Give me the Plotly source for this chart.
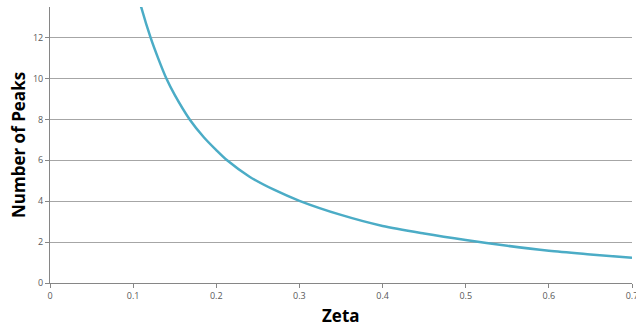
import plotly.graph_objects as go

zeta = [0.100, 0.110, 0.121, 0.130, 0.140, 0.150, 0.168, 0.185, 0.200, 0.213,
        0.240, 0.270, 0.300, 0.350, 0.400, 0.450, 0.500, 0.550, 0.600, 0.650, 0.700]
peaks = [15.0, 13.45, 12.0, 11.0, 10.0, 9.2, 8.0, 7.13, 6.5, 6.0,
         5.2, 4.55, 4.02, 3.33, 2.79, 2.42, 2.10, 1.82, 1.58, 1.40, 1.23]
x_ticks = [0, 0.1, 0.2, 0.3, 0.4, 0.5, 0.6, 0.7]
x_labels = ["0", "0.1", "0.2", "0.3", "0.4", "0.5", "0.6", "0.7"]
y_ticks = [0, 2, 4, 6, 8, 10, 12]

W, H = 636, 324
L, R, T, B = 50, 4, 7, 41

fig = go.Figure()
fig.add_trace(go.Scatter(x=zeta, y=peaks, mode="lines",
                         line=dict(color="#4BACC6", width=2.5, shape="spline", smoothing=0.8),
                         showlegend=False))

fig.update_layout(
    width=W, height=H,
    margin=dict(l=L, r=R, t=T, b=B, autoexpand=False),
    paper_bgcolor="white", plot_bgcolor="white",
    font=dict(family="Open Sans", color="#595959", size=9),
)
fig.update_xaxes(
    range=[0, 0.7], tickvals=x_ticks, ticktext=x_labels,
    showgrid=False, zeroline=False, automargin=False, ticklabeloverflow="allow",
    showline=True, linecolor="#868686", linewidth=1,
    ticks="outside", ticklen=4, tickcolor="#868686",
    tickfont=dict(size=9, color="#595959"),
)
fig.update_yaxes(
    range=[0, 13.5], tickvals=y_ticks,
    showgrid=True, gridcolor="#A6A6A6", gridwidth=1, zeroline=False, automargin=False,
    showline=True, linecolor="#868686", linewidth=1,
    ticks="outside", ticklen=4, tickcolor="#868686",
    tickfont=dict(size=9, color="#595959"),
)
fig.add_annotation(text="<b>Zeta</b>", xref="paper", yref="paper",
                   x=0.5, y=-(315 - (H - B)) / (H - T - B), xanchor="center", yanchor="middle",
                   showarrow=False, font=dict(family="Open Sans", size=17, color="black"))
fig.add_annotation(text="<b>Number of Peaks</b>", xref="paper", yref="paper",
                   x=-(L - 18) / (W - L - R), y=0.5, xanchor="center", yanchor="middle",
                   textangle=-90, showarrow=False,
                   font=dict(family="Open Sans", size=17, color="black"))

fig.write_html("out.html", config={"displayModeBar": False},
               post_script="document.body.style.margin='0';document.body.style.overflow='hidden';")
